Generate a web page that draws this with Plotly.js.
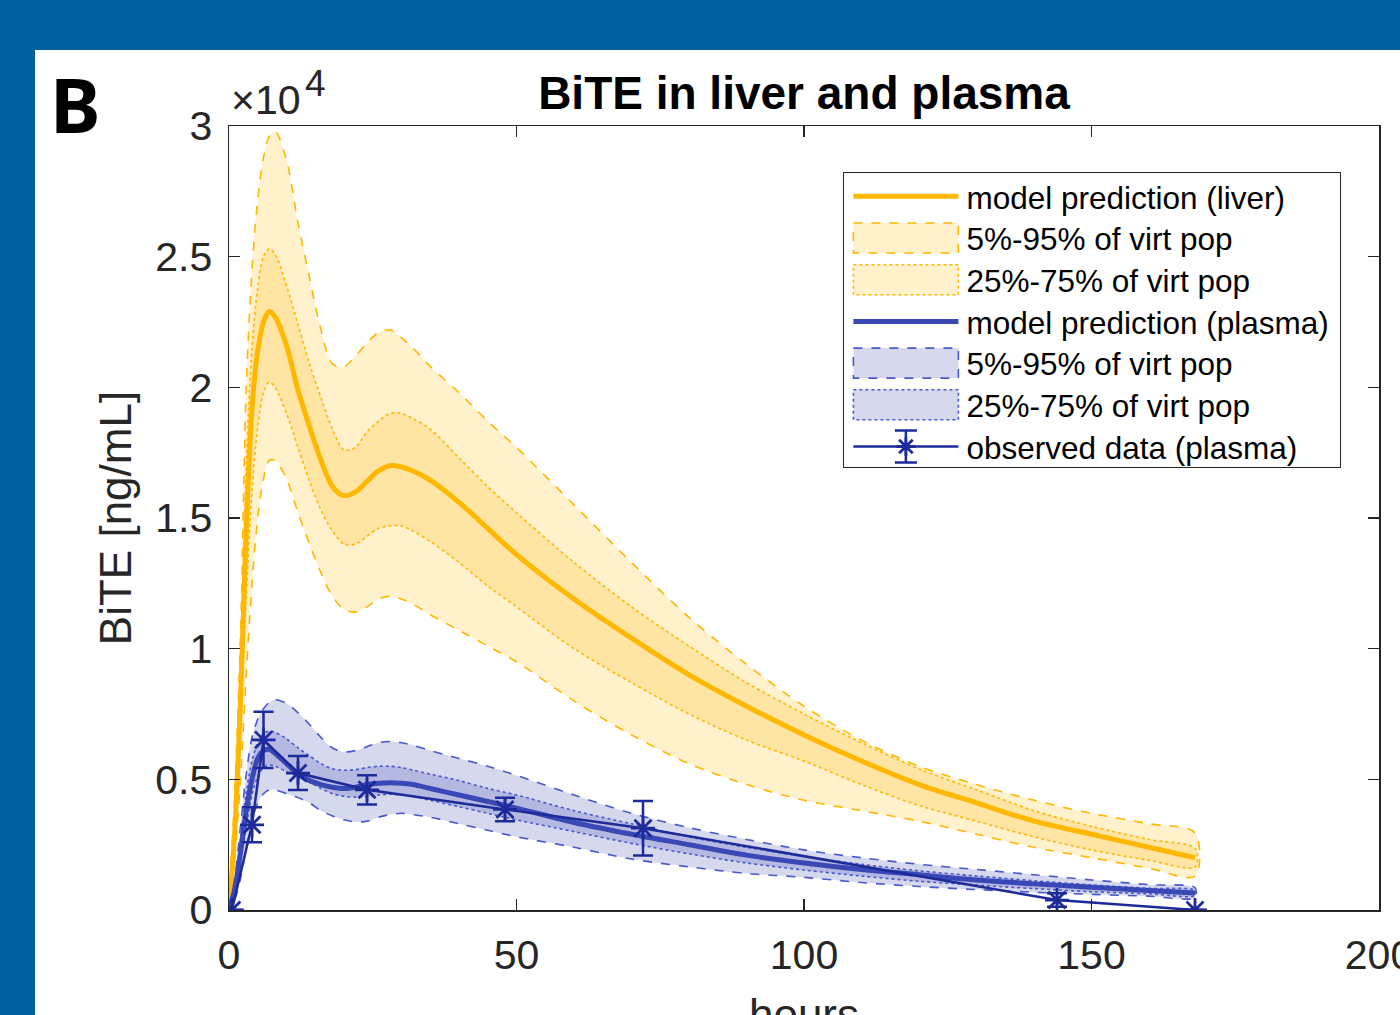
<!DOCTYPE html>
<html>
<head>
<meta charset="utf-8">
<script src="https://cdn.plot.ly/plotly-3.0.1.min.js"></script>
<style>
  html, body { margin:0; padding:0; width:1400px; height:1015px; overflow:hidden; background:#00609F; }
  #wrap { position:absolute; left:35px; top:50px; width:1365px; height:965px; overflow:hidden; background:#ffffff; }
  #chart { width:1420px; height:1020px; }
</style>
</head>
<body>
<div id="wrap"><div id="chart"></div></div>
<script>
// time grid (hours)
const hours = [0,1,2,3,4,5,6,7,8,10,12,14,16,18,20,22,24,26,28,30,32,35,40,45,50,60,70,80,90,100,110,120,130,140,150,160,168];

// BiTE in liver (x10^4 ng/mL)
const liverMedian = [0,0.3,0.8,1.45,1.92,2.14,2.25,2.29,2.27,2.16,1.99,1.85,1.72,1.62,1.585,1.60,1.64,1.68,1.70,1.695,1.68,1.645,1.56,1.46,1.36,1.19,1.04,0.90,0.78,0.67,0.57,0.48,0.41,0.34,0.29,0.24,0.20];
const liverP95 = [0,0.45,1.05,2.0,2.45,2.72,2.88,2.96,2.98,2.87,2.63,2.42,2.22,2.09,2.08,2.12,2.17,2.21,2.22,2.19,2.15,2.08,1.98,1.87,1.77,1.55,1.33,1.12,0.94,0.78,0.65,0.55,0.48,0.42,0.37,0.33,0.295];
const liverP05 = [0,0.2,0.5,0.9,1.25,1.5,1.65,1.72,1.72,1.65,1.52,1.40,1.29,1.20,1.15,1.14,1.16,1.19,1.20,1.19,1.17,1.13,1.07,1.01,0.95,0.80,0.67,0.56,0.48,0.42,0.38,0.34,0.29,0.24,0.20,0.16,0.13];
const liverP75 = [0,0.35,0.95,1.7,2.15,2.38,2.5,2.53,2.51,2.39,2.24,2.09,1.96,1.84,1.76,1.77,1.83,1.87,1.90,1.90,1.88,1.84,1.73,1.62,1.52,1.33,1.16,1.01,0.87,0.75,0.64,0.54,0.46,0.38,0.32,0.27,0.235];
const liverP25 = [0,0.25,0.7,1.2,1.6,1.85,1.98,2.02,2.0,1.9,1.77,1.64,1.53,1.45,1.40,1.40,1.43,1.46,1.47,1.47,1.45,1.41,1.33,1.24,1.16,1.00,0.87,0.75,0.65,0.57,0.48,0.40,0.34,0.28,0.23,0.19,0.165];

// BiTE in plasma (x10^4 ng/mL)
const plasmaMedian = [0,0.08,0.22,0.38,0.50,0.58,0.61,0.615,0.60,0.56,0.52,0.495,0.48,0.47,0.465,0.47,0.48,0.485,0.487,0.485,0.48,0.465,0.44,0.415,0.39,0.335,0.29,0.25,0.21,0.18,0.155,0.135,0.115,0.10,0.087,0.075,0.065];
const plasmaP95 = [0,0.12,0.32,0.52,0.66,0.73,0.77,0.795,0.805,0.79,0.755,0.71,0.66,0.62,0.605,0.61,0.625,0.64,0.645,0.64,0.63,0.61,0.58,0.55,0.515,0.44,0.37,0.315,0.27,0.23,0.20,0.175,0.155,0.135,0.115,0.097,0.085];
const plasmaP05 = [0,0.04,0.12,0.24,0.34,0.41,0.445,0.46,0.46,0.445,0.43,0.41,0.38,0.36,0.345,0.337,0.34,0.355,0.365,0.37,0.365,0.355,0.33,0.305,0.28,0.24,0.195,0.165,0.14,0.125,0.105,0.09,0.078,0.068,0.06,0.053,0.048];
const plasmaP75 = [0,0.1,0.27,0.45,0.57,0.64,0.675,0.685,0.68,0.655,0.62,0.59,0.56,0.54,0.535,0.537,0.545,0.55,0.55,0.545,0.535,0.52,0.495,0.465,0.44,0.38,0.33,0.28,0.24,0.205,0.175,0.15,0.13,0.112,0.096,0.083,0.075];
const plasmaP25 = [0,0.06,0.18,0.32,0.44,0.51,0.545,0.555,0.55,0.53,0.51,0.49,0.465,0.445,0.435,0.432,0.435,0.44,0.443,0.44,0.435,0.42,0.395,0.37,0.345,0.30,0.255,0.215,0.18,0.153,0.13,0.11,0.095,0.082,0.07,0.062,0.055];

// observed plasma data
const obsHours = [0.5,4,6,12,24,48,72,144,168];
const obsValues = [0,0.326,0.651,0.524,0.46,0.385,0.313,0.038,0];
const obsErr = [0,0.067,0.108,0.065,0.056,0.045,0.104,0.026,0];

// tick labels
const xTicks = [0,50,100,150,200];
const yTicks = [0,0.5,1,1.5,2,2.5,3];
const yTickText = ['0','0.5','1','1.5','2','2.5','3'];

const ORANGE = '#FFB700';
const ORANGE_FILL = 'rgba(255,183,0,0.2)';
const BLUE_LINE = 'rgb(58,72,182)';
const BLUE_EDGE = 'rgb(72,88,205)';
const BLUE_FILL = 'rgba(50,60,170,0.2)';
const NAVY = '#1C2A9A';
const AX = '#262626';
const FONT = 'Liberation Sans, Arial, sans-serif';

function band(lo, hi) {
  return {
    x: hours.concat(hours.slice().reverse()),
    y: lo.concat(hi.slice().reverse())
  };
}

const b1 = band(liverP05, liverP95);
const b2 = band(liverP25, liverP75);
const b3 = band(plasmaP05, plasmaP95);
const b4 = band(plasmaP25, plasmaP75);

const traces = [
  {x:b1.x, y:b1.y, type:'scatter', mode:'lines', fill:'toself', fillcolor:ORANGE_FILL,
   line:{color:ORANGE, width:1.6, dash:'dash', shape:'spline', smoothing:0.9},
   name:'5%-95% of virt pop', legendrank:2, hoverinfo:'skip'},
  {x:b2.x, y:b2.y, type:'scatter', mode:'lines', fill:'toself', fillcolor:ORANGE_FILL,
   line:{color:ORANGE, width:1.6, dash:'dot', shape:'spline', smoothing:0.9},
   name:'25%-75% of virt pop', legendrank:3, hoverinfo:'skip'},
  {x:hours, y:liverMedian, type:'scatter', mode:'lines',
   line:{color:ORANGE, width:5, shape:'spline', smoothing:0.9},
   name:'model prediction (liver)', legendrank:1},
  {x:b3.x, y:b3.y, type:'scatter', mode:'lines', fill:'toself', fillcolor:BLUE_FILL,
   line:{color:BLUE_EDGE, width:1.6, dash:'dash', shape:'spline', smoothing:0.9},
   name:'5%-95% of virt pop ', legendrank:5, hoverinfo:'skip'},
  {x:b4.x, y:b4.y, type:'scatter', mode:'lines', fill:'toself', fillcolor:BLUE_FILL,
   line:{color:BLUE_EDGE, width:1.6, dash:'dot', shape:'spline', smoothing:0.9},
   name:'25%-75% of virt pop ', legendrank:6, hoverinfo:'skip'},
  {x:hours, y:plasmaMedian, type:'scatter', mode:'lines',
   line:{color:BLUE_LINE, width:5, shape:'spline', smoothing:0.9},
   name:'model prediction (plasma)', legendrank:4},
  {x:obsHours, y:obsValues, type:'scatter', mode:'lines+markers',
   line:{color:NAVY, width:2.5},
   marker:{symbol:'asterisk-open', size:20, color:NAVY, line:{color:NAVY, width:2.8}},
   error_y:{type:'data', array:obsErr, visible:true, color:NAVY, thickness:2.5, width:10},
   name:'observed data (plasma)', legendrank:7}
];

const axisCommon = {
  showline:true, linecolor:AX, linewidth:1.5, mirror:'ticks',
  ticks:'inside', ticklen:11, tickwidth:1.5, tickcolor:AX,
  showgrid:false, zeroline:false,
  tickfont:{size:41, color:AX, family:FONT}
};

const layout = {
  width:1420, height:1020,
  margin:{l:194, r:76, t:76, b:160},
  paper_bgcolor:'#ffffff', plot_bgcolor:'#ffffff',
  font:{family:FONT, color:AX},
  showlegend:true,
  title:{text:'<b>BiTE in liver and plasma</b>', font:{size:46, color:'#000000', family:FONT},
         x:0.5, xref:'paper', xanchor:'center', y:1-43/1020, yref:'container', yanchor:'middle'},
  xaxis: Object.assign({}, axisCommon, {
    range:[0,200], tickmode:'array', tickvals:xTicks, ticktext:xTicks.map(String),
    ticklabelstandoff:8,
    title:{text:'hours', font:{size:44, color:AX, family:FONT}, standoff:22}
  }),
  yaxis: Object.assign({}, axisCommon, {
    range:[0,3], tickmode:'array', tickvals:yTicks, ticktext:yTickText,
    ticklabelstandoff:7,
    title:{text:'BiTE [ng/mL]', font:{size:44, color:AX, family:FONT}, standoff:10}
  }),
  legend:{
    x:0.534, y:0.9413, xanchor:'left', yanchor:'top', xref:'paper', yref:'paper',
    bgcolor:'#ffffff', bordercolor:AX, borderwidth:1.3,
    font:{size:31.5, color:'#000000', family:FONT}, itemwidth:112, tracegroupgap:0
  },
  annotations:[
    {text:'×10', xref:'paper', yref:'paper', x:0, y:1, xanchor:'left', yanchor:'bottom',
     xshift:0, yshift:1, showarrow:false, font:{size:41, color:AX, family:FONT}},
    {text:'4', xref:'paper', yref:'paper', x:0, y:1, xanchor:'left', yanchor:'bottom',
     xshift:74, yshift:20, showarrow:false, font:{size:37, color:AX, family:FONT}},
    {text:'<b>B</b>', xref:'paper', yref:'paper', x:-181/1150, y:1+76/784, xanchor:'left', yanchor:'top',
     showarrow:false, font:{size:76, color:'#000000', family:'Noto Sans, Open Sans, sans-serif'}}
  ]
};

Plotly.newPlot('chart', traces, layout, {displayModeBar:false, staticPlot:true}).then(function (gd) {
  const NS = 'http://www.w3.org/2000/svg';
  const items = Array.from(gd.querySelectorAll('.legend .traces'));
  // widen legend keys like the reference
  items.forEach(function (tr) {
    const t = tr.querySelector('.legendtext');
    const txt = t ? t.textContent : '';
    const rect = 'M9,-15h105v30h-105z';
    const fills = tr.querySelectorAll('.legendfill path');
    const lines = tr.querySelectorAll('.legendlines path');
    if (txt.indexOf('virt pop') >= 0) {
      fills.forEach(function (p) { p.setAttribute('d', rect); });
      lines.forEach(function (p) { p.setAttribute('d', rect); p.style.fill = 'none'; });
    } else {
      lines.forEach(function (p) { p.setAttribute('d', 'M9,0h105'); });
    }
    tr.querySelectorAll('.legendpoints path.scatterpts').forEach(function (p) {
      p.setAttribute('transform', 'translate(61.5,0)');
    });
    if (txt.indexOf('observed') >= 0) {
      const eb = document.createElementNS(NS, 'path');
      eb.setAttribute('d', 'M61.5,-16V16M50.5,-16H72.5M50.5,16H72.5');
      eb.setAttribute('stroke', NAVY);
      eb.setAttribute('stroke-width', '2.5');
      eb.setAttribute('fill', 'none');
      const layers = tr.querySelector('.layers') || tr;
      layers.appendChild(eb);
    }
  });
  // tighten legend row spacing to the reference's
  const parsed = items.map(function (tr) {
    const m = (tr.getAttribute('transform') || '').match(/translate\(\s*([-\d.e]+)[\s,]+([-\d.e]+)\s*\)/);
    return {tr: tr, x: m ? parseFloat(m[1]) : 0, y: m ? parseFloat(m[2]) : 0};
  }).sort(function (a, b) { return a.y - b.y; });
  if (parsed.length) {
    const y0 = parsed[0].y - 4;
    parsed.forEach(function (p, i) {
      p.tr.setAttribute('transform', 'translate(' + p.x + ',' + (y0 + i * 41.7) + ')');
    });
    const bg = gd.querySelector('.legend rect.bg');
    if (bg) {
      bg.setAttribute('height', String(296 - 1.3));
      const w = parseFloat(bg.getAttribute('width'));
      if (!isNaN(w)) bg.setAttribute('width', String(w + 5));
    }
  }
});
</script>
</body>
</html>
